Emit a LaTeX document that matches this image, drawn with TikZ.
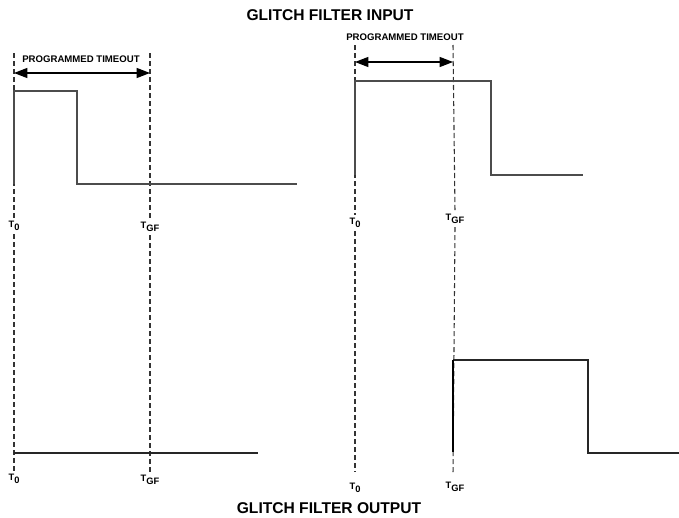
\documentclass[tikz,border=0pt]{standalone}
\usepackage{fontspec}
\setmainfont{Liberation Sans}
\usetikzlibrary{arrows.meta,positioning}
\tikzset{
  title/.style  ={font=\fontsize{11.7}{13}\selectfont\bfseries, inner sep=0pt},
  span/.style   ={font=\fontsize{7.2}{8}\selectfont\bfseries, inner sep=0pt},
  tick/.style   ={font=\fontsize{7}{8}\selectfont\bfseries, inner sep=2.5pt},
  guide/.style  ={draw=black!80, line width=0.9pt, dash pattern=on 3.8pt off 2.2pt},
  thinguide/.style={guide, line width=0.8pt, draw=black!80},
  wave/.style   ={draw=black!70, line width=1pt},
  edge/.style   ={draw=black, line width=1.6pt},
  timeout/.style={{Triangle[length=10pt,width=7.5pt]}-{Triangle[length=10pt,width=7.5pt]},
                  line width=0.9pt, draw=black},
}
\newcommand{\tlab}[1]{T\raisebox{-0.5ex}{#1}}

\begin{document}
\begin{tikzpicture}[x=0.75pt, y=-0.75pt]
  \useasboundingbox (0,0) rectangle (679,518);

  \node[title] (intitle)  at (330,15)  {GLITCH FILTER INPUT};
  \node[title] (outtitle) at (329,508) {GLITCH FILTER OUTPUT};

  % left: glitch shorter than the timeout
  \coordinate (aT0top) at (14,53);
  \coordinate (aGFtop) at (150,53);
  \node[tick] (aT0)  at (14,226)  {\tlab{0}};
  \node[tick] (aGF)  at (150,227) {\tlab{GF}};
  \node[tick] (aT0b) at (14,479)  {\tlab{0}};
  \node[tick] (aGFb) at (150,480) {\tlab{GF}};
  \draw[guide] (aT0top) -- (aT0.north);
  \draw[guide] (aT0.south) -- (aT0b.north);
  \draw[guide] (aGFtop) -- (aGF.north);
  \draw[guide] (aGF.south) -- (aGFb.north);
  \coordinate (aArrL) at (14,73);
  \coordinate (aArrR) at (150,73);
  \draw[timeout] (aArrL) -- (aArrR);
  \node[span] (aspan) at (81,59) {PROGRAMMED TIMEOUT};
  \draw[wave] (14,184) -- (14,91) -- (77,91) -- (77,184) -- (297,184);
  \draw[wave, draw=black!85] (14,453) -- (258,453);

  % right: pulse longer than the timeout
  \coordinate (bT0top) at (355,45);
  \coordinate (bGFtop) at (453,45);
  \node[tick] (bT0)  at (355,223) {\tlab{0}};
  \node[tick] (bGF)  at (455,219) {\tlab{GF}};
  \node[tick] (bT0b) at (355,488) {\tlab{0}};
  \node[tick] (bGFb) at (455,487) {\tlab{GF}};
  \coordinate (bT0end) at (355,472);
  \coordinate (bGFend) at (453,475);
  \draw[thinguide] (bT0top) -- (bT0.north);
  \draw[thinguide] (bT0.south) -- (bT0end);
  \draw[thinguide] (bGFtop) -- (bGF.north);
  \draw[thinguide] (bGF.south) -- (bGFend);
  \coordinate (bArrL) at (355,62);
  \coordinate (bArrR) at (453,62);
  \draw[timeout] (bArrL) -- (bArrR);
  \node[span] (bspan) at (405,37) {PROGRAMMED TIMEOUT};
  \draw[wave] (355,175) -- (355,81) -- (491,81) -- (491,175) -- (583,175);
  \draw[wave, draw=black!85] (453,360) -- (588,360) -- (588,453) -- (679,453);
  \draw[edge] (453,452) -- (453,360);
\end{tikzpicture}
\end{document}
